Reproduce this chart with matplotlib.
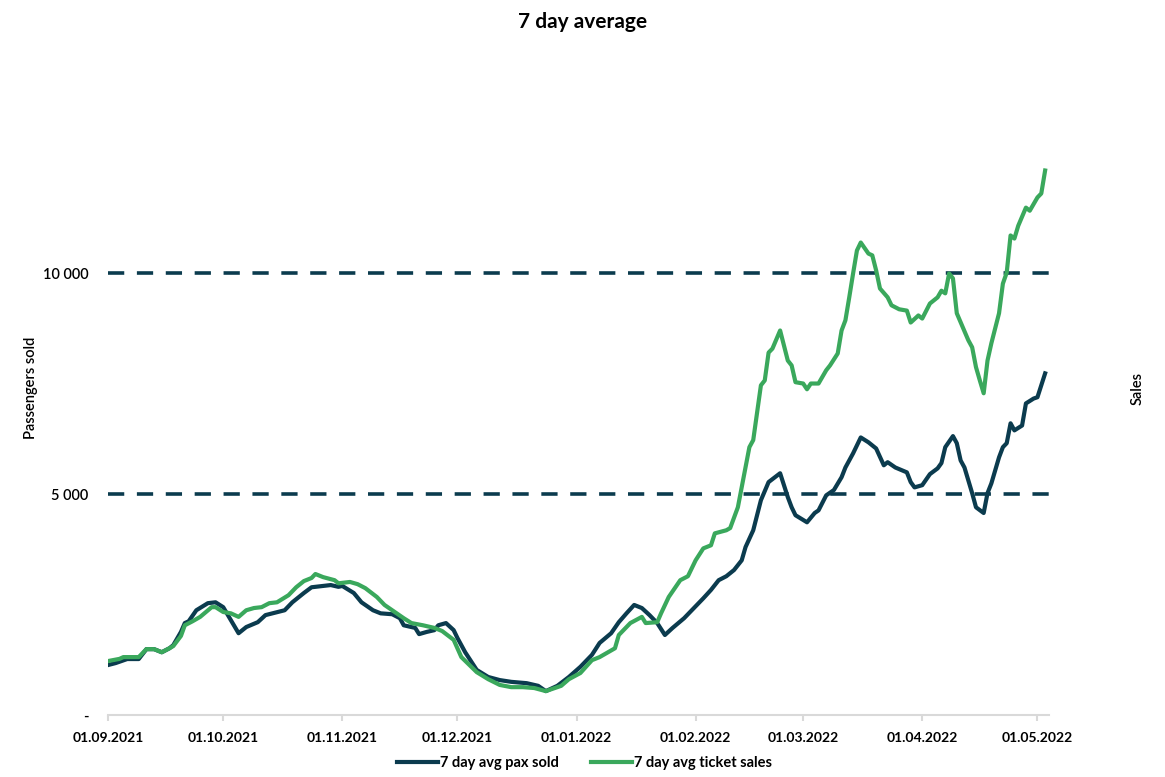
import datetime as dt
import matplotlib
matplotlib.use("Agg")
import matplotlib.pyplot as plt
import matplotlib.dates as mdates
from matplotlib.ticker import FuncFormatter

# 7 day averages (day = days since 01.09.2021)
start = dt.datetime(2021, 9, 1)

pax_day = [0, 2, 5, 8, 10, 12, 14, 16, 17, 19, 20, 21, 23, 26, 28, 30, 34, 36, 39, 41,
           46, 48, 51, 53, 58, 60, 61, 64, 66, 69, 71, 74, 76, 77, 80, 81, 83, 85, 86, 88,
           90, 91, 93, 96, 99, 102, 105, 109, 112, 114, 117, 120, 123, 126, 128, 131, 133,
           135, 137, 139, 141, 143, 145, 147, 150, 152, 155, 157, 159, 161, 163, 165, 166,
           168, 170, 172, 175, 177, 178, 179, 182, 184, 185, 187, 189, 191, 192, 194, 196,
           198, 200, 202, 203, 205, 208, 209, 210, 212, 214, 216, 217, 218, 220, 221, 222,
           223, 224, 225, 226, 228, 229, 230, 232, 233, 234, 235, 236, 238, 239, 241, 242, 244]
pax_sold = [1130, 1175, 1266, 1266, 1490, 1490, 1420, 1510, 1580, 1880, 2080, 2120, 2370,
            2530, 2550, 2440, 1850, 1990, 2100, 2260, 2370, 2550, 2760, 2890, 2940, 2900,
            2920, 2760, 2550, 2370, 2300, 2280, 2190, 2030, 1970, 1830, 1880, 1920, 2030,
            2080, 1920, 1740, 1420, 1020, 860, 790, 750, 720, 660, 540, 660, 860, 1090, 1360,
            1630, 1850, 2100, 2300, 2490, 2420, 2260, 2080, 1810, 1970, 2190, 2370, 2640,
            2830, 3050, 3140, 3280, 3500, 3800, 4180, 4860, 5270, 5470, 4930, 4700, 4520,
            4360, 4570, 4630, 4970, 5090, 5380, 5600, 5920, 6280, 6170, 6030, 5650, 5720,
            5600, 5490, 5270, 5150, 5200, 5450, 5580, 5700, 6060, 6310, 6150, 5760, 5600,
            5310, 5020, 4700, 4570, 5020, 5240, 5830, 6060, 6150, 6600, 6440, 6550, 7050,
            7160, 7190, 7730]

sales_day = [0, 3, 4, 8, 10, 12, 14, 16, 17, 19, 20, 22, 24, 27, 28, 30, 32, 34, 36, 38, 40,
             42, 44, 47, 49, 51, 53, 54, 56, 59, 60, 63, 65, 67, 70, 72, 74, 77, 79, 82, 85,
             87, 90, 92, 96, 99, 102, 105, 108, 111, 114, 118, 120, 123, 126, 128, 132, 133,
             136, 139, 140, 143, 144, 146, 149, 151, 153, 155, 157, 158, 161, 162, 164, 166,
             167, 168, 170, 171, 172, 173, 175, 177, 178, 179, 181, 182, 183, 185, 187, 188,
             190, 191, 192, 193, 194, 195, 196, 198, 199, 200, 201, 203, 204, 206, 208, 209,
             211, 212, 214, 216, 217, 218, 219, 220, 221, 224, 225, 226, 227, 228, 229, 230,
             232, 233, 234, 235, 236, 237, 239, 240, 242, 243, 244]
ticket_sales = [1220, 1270, 1310, 1310, 1490, 1490, 1420, 1510, 1560, 1790, 2030, 2120, 2220,
                2440, 2440, 2330, 2300, 2220, 2370, 2420, 2440, 2530, 2550, 2710, 2890, 3030,
                3100, 3190, 3120, 3050, 2980, 3010, 2960, 2870, 2670, 2490, 2370, 2190, 2080,
                2030, 1970, 1900, 1700, 1310, 970, 810, 680, 630, 630, 610, 540, 660, 810, 950,
                1240, 1310, 1510, 1810, 2080, 2220, 2080, 2100, 2300, 2670, 3050, 3140, 3500,
                3770, 3840, 4110, 4180, 4230, 4700, 5600, 6060, 6220, 7460, 7570, 8200, 8290,
                8700, 8020, 7910, 7530, 7500, 7370, 7500, 7500, 7800, 7910, 8180, 8700, 8930,
                9450, 9990, 10510, 10690, 10440, 10400, 10060, 9650, 9450, 9270, 9180, 9150,
                8880, 9040, 8970, 9310, 9450, 9600, 9540, 9990, 9880, 9090, 8480, 8320, 7870,
                7570, 7280, 8020, 8410, 9090, 9760, 10010, 10850, 10780, 11070, 11480, 11410,
                11710, 11800, 12320]

month_ticks = [dt.datetime(2021, m, 1) for m in (9, 10, 11, 12)] + \
              [dt.datetime(2022, m, 1) for m in (1, 2, 3, 4, 5)]

dark = "#0b3b4e"
green = "#3aa85c"

plt.rcParams["font.family"] = ["Lato", "DejaVu Sans"]

fig = plt.figure(figsize=(11.65, 7.77), dpi=100)
ax = fig.add_axes([0.0927, 0.0798, 0.8077, 0.8532])

pax_x = [start + dt.timedelta(days=d) for d in pax_day]
sales_x = [start + dt.timedelta(days=d) for d in sales_day]

ax.plot(pax_x, pax_sold, color=dark, lw=3, label="7 day avg pax sold", zorder=3)
ax.plot(sales_x, ticket_sales, color=green, lw=3, label="7 day avg ticket sales", zorder=3)

ax.set_xlim(start, start + dt.timedelta(days=245))
ax.set_ylim(0, 15000)
ax.set_yticks([0, 5000, 10000])
ax.yaxis.set_major_formatter(FuncFormatter(
    lambda v, p: "-" if v == 0 else f"{int(v):,}".replace(",", " ")))
ax.set_xticks(month_ticks)
ax.xaxis.set_major_formatter(mdates.DateFormatter("%d.%m.%Y"))

ax.grid(axis="y", color=dark, lw=2.6, linestyle=(0, (4.5, 3.5)))
ax.yaxis.get_gridlines()[0].set_visible(False)
ax.set_axisbelow(True)

for s in ("top", "right", "left"):
    ax.spines[s].set_visible(False)
ax.spines["bottom"].set_color("#d9d9d9")
ax.spines["bottom"].set_linewidth(1.5)
ax.tick_params(axis="x", color="#d9d9d9", width=1.5, length=4, pad=8, labelsize=10)
ax.tick_params(axis="y", length=0, pad=14, labelsize=10.5)
for lab in ax.get_xticklabels():
    lab.set_fontweight("bold")
for lab in ax.get_yticklabels():
    lab.set_fontweight("semibold")

fig.text(31 / 1165, 1 - 388 / 777, "Passengers sold", rotation=90, ha="center",
         va="center", fontsize=10.5, fontweight="semibold")
fig.text(1138 / 1165, 1 - 388 / 777, "Sales", rotation=90, ha="center", va="center",
         fontsize=10.5, fontweight="semibold")
fig.suptitle("7 day average", fontsize=15, fontweight="bold", y=0.985)

leg = fig.legend(loc="lower center", bbox_to_anchor=(0.502, -0.008), ncol=2, frameon=False,
                 handlelength=2.8, handletextpad=0.15, columnspacing=2.2,
                 prop={"size": 10.5, "weight": "bold"})

fig.savefig("out.png", dpi=100)
